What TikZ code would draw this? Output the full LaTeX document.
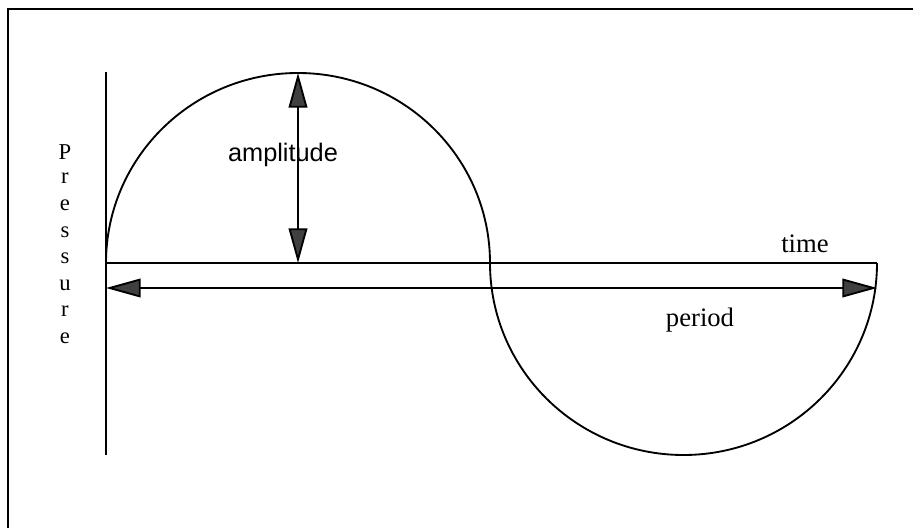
\documentclass[tikz,border=0pt]{standalone}
\usepackage{fontspec}
\setmainfont{Liberation Serif}
\setsansfont{Liberation Sans}
\usetikzlibrary{arrows.meta,positioning,calc}
\tikzset{
  wave/.style={draw, line width=1.4pt},
  dbl/.style={line width=1.4pt, {Triangle[length=26pt, width=14pt, fill=black!75]}-{Triangle[length=26pt, width=14pt, fill=black!75]}},
  lbl/.style={font=\fontsize{20}{22}\selectfont, inner sep=0pt},
  plbl/.style={font=\fontsize{17}{19}\selectfont, inner sep=0pt},
  slbl/.style={font=\sffamily\fontsize{19}{21}\selectfont, inner sep=0pt},
  frm/.style={draw, line width=1pt}
}
\begin{document}
\begin{tikzpicture}[x=0.75pt, y=0.75pt]
\useasboundingbox (-106,-265) rectangle (807,263);
% frame
\coordinate (fl) at (-98,-265);
\coordinate (fc) at (-98,254);
\coordinate (fr) at (807,254);
\draw[frm] (fl) -- (fc) -- (fr);
% axes
\coordinate (O) at (0,0);
\coordinate (ytop) at (0,191);
\coordinate (ybot) at (0,-192);
\coordinate (tend) at (771,0);
\draw[wave] (ytop) -- (ybot);
\draw[wave] (O) -- (tend);
% the wave
\coordinate (peak) at (192,190);
\coordinate (cross) at (384,0);
\draw[wave] (O) arc[start angle=180, end angle=0, x radius=192, y radius=190]
  arc[start angle=180, end angle=360, x radius=193.5, y radius=192];
% amplitude and period
\coordinate (pbase) at (192,0);
\draw[dbl] (pbase) -- (peak);
\coordinate (pl) at (0,-25);
\coordinate (pr) at (771,-25);
\draw[dbl] (pl) -- (pr);
% labels
\node[slbl] (amp) at (177,108) {amplitude};
\node[lbl, anchor=base west] (time) at (675,10) {time};
\node[lbl] (per) at (594,-57) {period};
\foreach \c [count=\i from 0] in {P,r,e,s,s,u,r,e}
  \node[plbl] (p\i) at (-41,{111-26.6*\i}) {\c};
\end{tikzpicture}
\end{document}
